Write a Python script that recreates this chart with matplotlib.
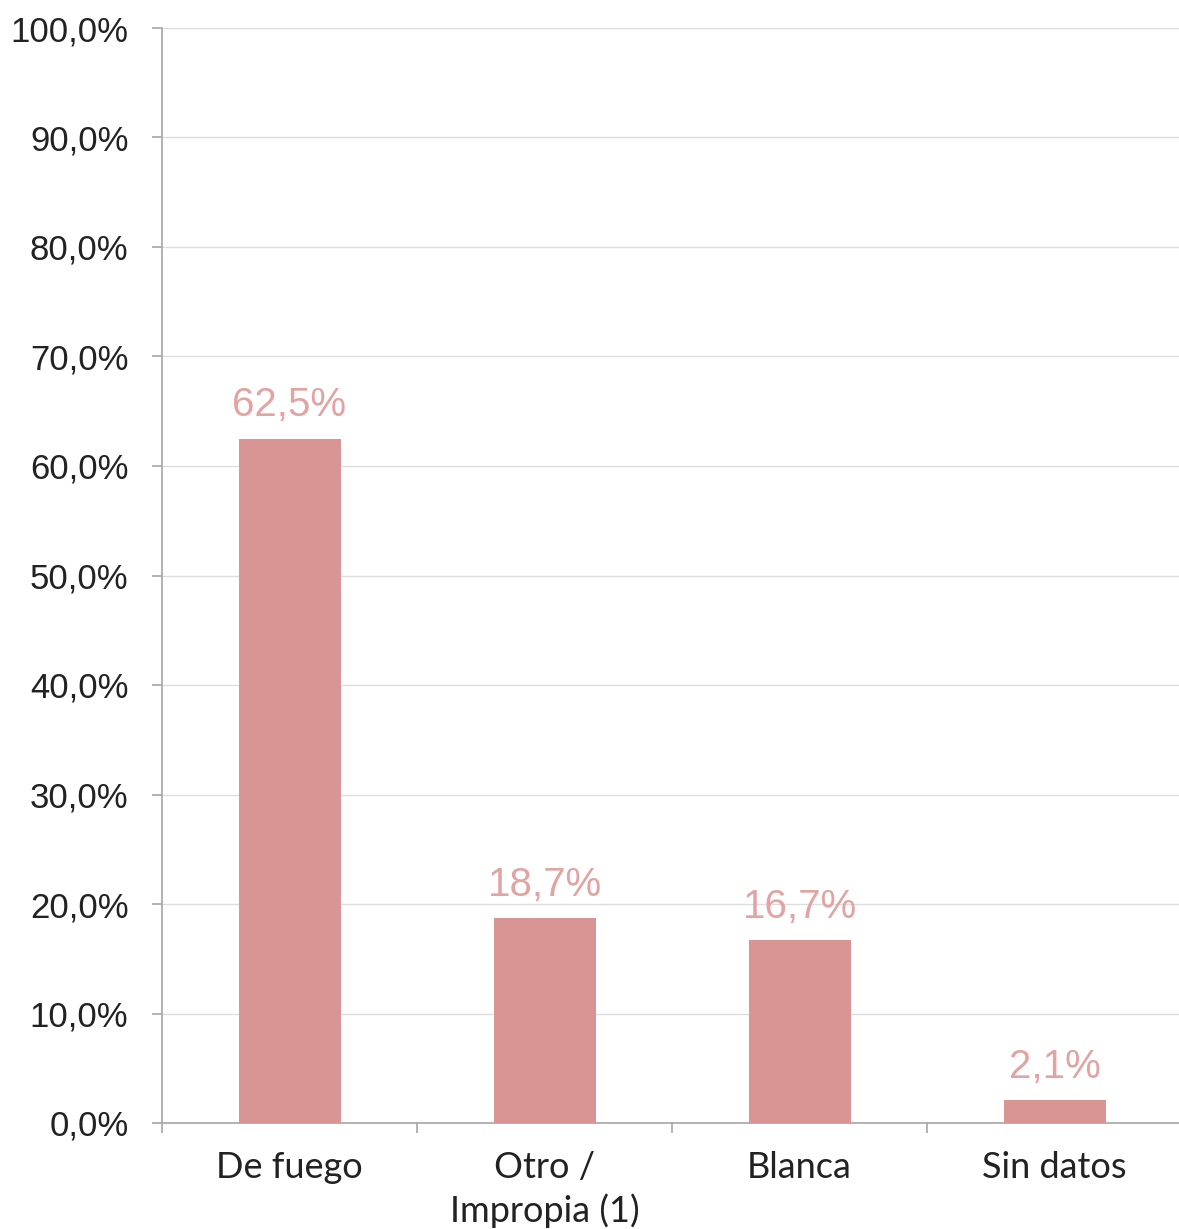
import matplotlib
matplotlib.use("Agg")
import matplotlib.pyplot as plt
from matplotlib.ticker import FuncFormatter

# data
categories = ["De fuego", "Otro /\nImpropia (1)", "Blanca", "Sin datos"]
values = [62.5, 18.7, 16.7, 2.1]
yticks = [0, 10, 20, 30, 40, 50, 60, 70, 80, 90, 100]

bar_color = "#d99594"
label_color = "#e2a3a3"
axis_color = "#a6a6a6"

fig = plt.figure(figsize=(11.79, 12.29), dpi=100)
ax = fig.add_axes([162 / 1179, 1 - 1123 / 1229, 1020 / 1179, (1123 - 28) / 1229])

x = range(len(categories))
ax.bar(x, values, width=0.4, color=bar_color, zorder=3)

# value labels above the bars
for xi, v in zip(x, values):
    ax.annotate(f"{v:.1f}%".replace(".", ","), (xi, v), xytext=(0, 16),
                textcoords="offset points", ha="center", va="baseline",
                fontsize=29, color=label_color, family="Liberation Sans")

ax.set_xlim(-0.5, 3.5)
ax.set_ylim(0, 100)
ax.set_yticks(yticks)
ax.yaxis.set_major_formatter(FuncFormatter(lambda v, p: f"{v:.1f}%".replace(".", ",")))
ax.grid(axis="y", color="#dddddd", linewidth=1, zorder=0)

# category labels between boundary ticks
ax.set_xticks([-0.5, 0.5, 1.5, 2.5, 3.5])
ax.set_xticklabels([])
ax.set_xticks(list(x), minor=True)
ax.set_xticklabels(categories, minor=True, fontsize=26, family="Lato",
                   color="#222222", linespacing=1.32)
ax.tick_params(axis="x", which="minor", length=0, pad=20)
ax.tick_params(axis="x", which="major", length=7.2, color=axis_color, width=1.2)
ax.tick_params(axis="y", length=7.2, color=axis_color, width=1.2, pad=17,
               labelsize=25, labelcolor="#222222")
for t in ax.get_yticklabels():
    t.set_family("Liberation Sans")

for side in ["top", "right"]:
    ax.spines[side].set_visible(False)
for side in ["left", "bottom"]:
    ax.spines[side].set_color(axis_color)
    ax.spines[side].set_linewidth(1.2)

fig.savefig("out.png", dpi=100)
